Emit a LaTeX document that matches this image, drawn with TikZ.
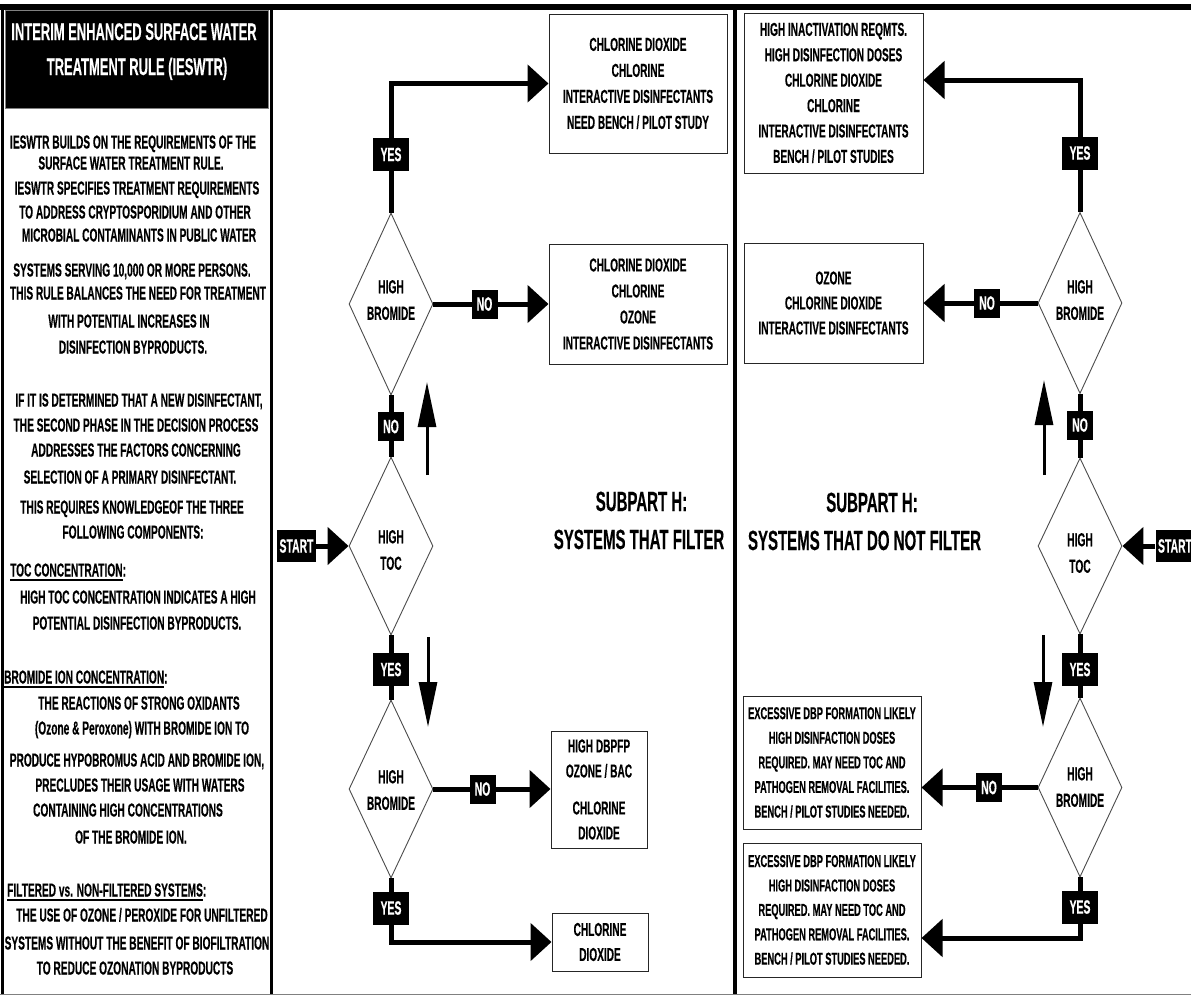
\documentclass[tikz,border=0pt]{standalone}
\usepackage{fontspec}
\setmainfont{Liberation Sans}[FakeStretch=0.54, FakeBold=0.3]
\usetikzlibrary{shapes.geometric,arrows.meta}
\newcommand\myul[1]{\setbox0\hbox{#1}\rlap{\rule[-4.5pt]{\wd0}{2pt}}\box0}
\begin{document}
\begin{tikzpicture}[x=1pt,y=-1pt,
 bodytxt/.style={anchor=base, inner sep=0pt, font=\bfseries\fontsize{18.8}{26}\selectfont},
 headtxt/.style={bodytxt, anchor=base west},
 titletxt/.style={anchor=base, inner sep=0pt, text=white, font=\bfseries\fontsize{24}{28}\selectfont},
 subtxt/.style={anchor=base, inner sep=0pt, font=\bfseries\fontsize{27.8}{30}\selectfont},
 dia/.style={draw=black!70, line width=0.9pt, shape=diamond, minimum width=84pt, inner sep=0pt},
 diatxt/.style={align=center, inner sep=0pt, font=\bfseries\fontsize{18.9}{26.5}\selectfont},
 outbox/.style={draw=black!85, line width=1pt, align=center, inner sep=0pt, font=\bfseries\fontsize{18.7}{26}\selectfont},
 lab/.style={fill=black, text=white, inner sep=0pt, font=\bfseries\fontsize{19.3}{20}\selectfont},
 yeslab/.style={lab, minimum width=36pt, minimum height=33pt},
 nolab/.style={lab, minimum width=26pt, minimum height=29pt},
 startlab/.style={lab, minimum width=39pt, minimum height=32pt},
 flow/.style={line width=5pt, -{Triangle[length=21pt,width=37pt]}},
 link/.style={line width=5pt},
 hint/.style={line width=3pt, -{Triangle[length=45pt,width=18pt]}},
]
\useasboundingbox (0,0) rectangle (1191,997);
\fill[white] (0,0) rectangle (1191,997);

% frame
\draw[line width=6pt] (0,7) -- (1191,7);
\draw[line width=3pt] (2,4) -- (2,994);
\draw[line width=3.5pt] (271.5,4) -- (271.5,994);
\draw[line width=4pt] (735,4) -- (735,994);
\draw[gray, line width=1.5pt] (0,994.5) -- (1191,994.5);

% title box
\fill[black] (5,10) rectangle (268,108);
\draw[gray, line width=1pt] (5,10) rectangle (268,108);
\node[titletxt] (t1) at (134,40) {INTERIM ENHANCED SURFACE WATER};
\node[titletxt] (t2) at (137,75) {TREATMENT RULE (IESWTR)};

% left panel text
\node[bodytxt] (l1) at (133,148.5) {IESWTR BUILDS ON THE REQUIREMENTS OF THE};
\node[bodytxt] (l2) at (131,169.5) {SURFACE WATER TREATMENT RULE.};
\node[bodytxt] (l3) at (137,194.5) {IESWTR SPECIFIES TREATMENT REQUIREMENTS};
\node[bodytxt] (l4) at (135,218.5) {TO ADDRESS CRYPTOSPORIDIUM AND OTHER};
\node[bodytxt] (l5) at (139,241.5) {MICROBIAL CONTAMINANTS IN PUBLIC WATER};
\node[bodytxt] (l6) at (132,276.5) {SYSTEMS SERVING 10,000 OR MORE PERSONS.};
\node[bodytxt] (l7) at (138,299.5) {THIS RULE BALANCES THE NEED FOR TREATMENT};
\node[bodytxt] (l8) at (129,327.5) {WITH POTENTIAL INCREASES IN};
\node[bodytxt] (l9) at (133,353.5) {DISINFECTION BYPRODUCTS.};
\node[bodytxt] (l10) at (139,406.5) {IF IT IS DETERMINED THAT A NEW DISINFECTANT,};
\node[bodytxt] (l11) at (136,431.5) {THE SECOND PHASE IN THE DECISION PROCESS};
\node[bodytxt] (l12) at (136,456.5) {ADDRESSES THE FACTORS CONCERNING};
\node[bodytxt] (l13) at (130,483.5) {SELECTION OF A PRIMARY DISINFECTANT.};
\node[bodytxt] (l14) at (132,513.5) {THIS REQUIRES KNOWLEDGEOF THE THREE};
\node[bodytxt] (l15) at (133,538.5) {FOLLOWING COMPONENTS:};
\node[headtxt] (h16) at (10,576.5) {\myul{TOC CONCENTRATION}:};
\node[bodytxt] (l17) at (138,603.5) {HIGH TOC CONCENTRATION INDICATES A HIGH};
\node[bodytxt] (l18) at (137,629.5) {POTENTIAL DISINFECTION BYPRODUCTS.};
\node[headtxt] (h19) at (4,683.5) {\myul{BROMIDE ION CONCENTRATION}:};
\node[bodytxt] (l20) at (139,709.5) {THE REACTIONS OF STRONG OXIDANTS};
\node[bodytxt] (l21) at (142,734.5) {(Ozone \& Peroxone) WITH BROMIDE ION TO};
\node[bodytxt] (l22) at (137,766.5) {PRODUCE HYPOBROMUS ACID AND BROMIDE ION,};
\node[bodytxt] (l23) at (140,791.5) {PRECLUDES THEIR USAGE WITH WATERS};
\node[bodytxt] (l24) at (128,816.5) {CONTAINING HIGH CONCENTRATIONS};
\node[bodytxt] (l25) at (131,843.5) {OF THE BROMIDE ION.};
\node[headtxt] (h26) at (7,896.5) {\myul{FILTERED vs. NON-FILTERED SYSTEMS}:};
\node[bodytxt] (l27) at (142,921.5) {THE USE OF OZONE / PEROXIDE FOR UNFILTERED};
\node[bodytxt] (l28) at (137,949.5) {SYSTEMS WITHOUT THE BENEFIT OF BIOFILTRATION};
\node[bodytxt] (l29) at (135,974.5) {TO REDUCE OZONATION BYPRODUCTS};

% subpart titles
\node[subtxt] (s1) at (641.5,511) {SUBPART H:};
\node[subtxt] (s2) at (639,549) {SYSTEMS THAT FILTER};
\node[subtxt] (s3) at (872,512) {SUBPART H:};
\node[subtxt] (s4) at (864.5,550) {SYSTEMS THAT DO NOT FILTER};

% ---------- centre: systems that filter ----------
\node[dia, minimum height=182pt] (dB1) at (391,304) {};
\node[dia, minimum height=178pt] (dT) at (391,546) {};
\node[dia, minimum height=178pt] (dB2) at (391,789) {};
\node[diatxt] (dB1t) at (391,300) {HIGH\\BROMIDE};
\node[diatxt] (dTt) at (391,550) {HIGH\\TOC};
\node[diatxt] (dB2t) at (391,790) {HIGH\\BROMIDE};

\node[outbox, minimum width=178pt, minimum height=139pt] (cB1) at (638,83.5)
 {CHLORINE DIOXIDE\\CHLORINE\\INTERACTIVE DISINFECTANTS\\NEED BENCH / PILOT STUDY};
\node[outbox, minimum width=178pt, minimum height=120pt] (cB2) at (638,304)
 {CHLORINE DIOXIDE\\CHLORINE\\OZONE\\INTERACTIVE DISINFECTANTS};
\node[outbox, minimum width=96pt, minimum height=117pt, font=\bfseries\fontsize{18.7}{25}\selectfont] (cB3) at (599,789.5)
 {HIGH DBPFP\\OZONE / BAC\\[12pt]CHLORINE\\DIOXIDE};
\node[outbox, minimum width=96pt, minimum height=58pt, font=\bfseries\fontsize{18.7}{25}\selectfont] (cB4) at (600,942)
 {CHLORINE\\DIOXIDE};

\node[startlab] (startL) at (296.5,546) {START};

\draw[flow] (startL.east) -- (dT.west);
\draw[link] (dT.north) -- (dB1.south);
\draw[link] (dT.south) -- (dB2.north);
\draw[flow] (dB1.north) |- (cB1.west);
\draw[flow] (dB1.east) -- (cB2.west);
\draw[flow] (dB2.east) -- (dB2.east -| cB3.west);
\draw[flow] (dB2.south) |- (cB4.west);

\coordinate (cu1) at (427,475);
\coordinate (cu2) at (427,382);
\coordinate (cd1) at (428,637);
\coordinate (cd2) at (428,727);
\draw[hint] (cu1) -- (cu2);
\draw[hint] (cd1) -- (cd2);

\node[yeslab] (cYes1) at (391,154.5) {YES};
\node[nolab] (cNo1) at (484.5,304) {NO};
\node[nolab] (cNo2) at (391,426.5) {NO};
\node[yeslab] (cYes2) at (391,669.5) {YES};
\node[nolab] (cNo3) at (482.5,789) {NO};
\node[yeslab] (cYes3) at (391,908) {YES};

% ---------- right: systems that do not filter ----------
\node[dia, minimum height=181pt] (dRB1) at (1080,303) {};
\node[dia, minimum height=176pt] (dRT) at (1080,546) {};
\node[dia, minimum height=179pt] (dRB2) at (1080,787.5) {};
\node[diatxt] (dRB1t) at (1080,300) {HIGH\\BROMIDE};
\node[diatxt] (dRTt) at (1080,553) {HIGH\\TOC};
\node[diatxt] (dRB2t) at (1080,787) {HIGH\\BROMIDE};

\node[outbox, minimum width=179pt, minimum height=160pt, font=\bfseries\fontsize{18.7}{25.4}\selectfont] (rB1) at (833.5,93)
 {HIGH INACTIVATION REQMTS.\\HIGH DISINFECTION DOSES\\CHLORINE DIOXIDE\\CHLORINE\\INTERACTIVE DISINFECTANTS\\BENCH / PILOT STUDIES};
\node[outbox, minimum width=179pt, minimum height=120pt, font=\bfseries\fontsize{18.7}{25}\selectfont] (rB2) at (833.5,303)
 {OZONE\\CHLORINE DIOXIDE\\INTERACTIVE DISINFECTANTS};
\node[outbox, minimum width=178pt, minimum height=133pt, font=\bfseries\fontsize{17.2}{24.6}\selectfont] (rB3) at (832,762.5)
 {EXCESSIVE DBP FORMATION LIKELY\\HIGH DISINFACTION DOSES\\REQUIRED. MAY NEED TOC AND\\PATHOGEN REMOVAL FACILITIES.\\BENCH / PILOT STUDIES NEEDED.};
\node[outbox, minimum width=178pt, minimum height=134pt, font=\bfseries\fontsize{17.2}{24.4}\selectfont] (rB4) at (832,910)
 {EXCESSIVE DBP FORMATION LIKELY\\HIGH DISINFACTION DOSES\\REQUIRED. MAY NEED TOC AND\\PATHOGEN REMOVAL FACILITIES.\\BENCH / PILOT STUDIES NEEDED.};

\node[startlab] (startR) at (1175,546) {START};

\draw[flow] (startR.west) -- (dRT.east);
\draw[link] (dRT.north) -- (dRB1.south);
\draw[link] (dRT.south) -- (dRB2.north);
\draw[flow] (dRB1.north) |- ([yshift=13pt]rB1.east);
\draw[flow] (dRB1.west) -- (rB2.east);
\draw[flow] (dRB2.west) -- (dRB2.west -| rB3.east);
\draw[flow] (dRB2.south) |- ([yshift=-28pt]rB4.east);

\coordinate (ru1) at (1044,475);
\coordinate (ru2) at (1044,380);
\coordinate (rd1) at (1043,635);
\coordinate (rd2) at (1043,727);
\draw[hint] (ru1) -- (ru2);
\draw[hint] (rd1) -- (rd2);

\node[yeslab] (rYes1) at (1080,153) {YES};
\node[nolab] (rNo1) at (987,303) {NO};
\node[nolab] (rNo2) at (1080,425) {NO};
\node[yeslab] (rYes2) at (1080,669.5) {YES};
\node[nolab] (rNo3) at (989,787.5) {NO};
\node[yeslab] (rYes3) at (1080,907) {YES};
\end{tikzpicture}
\end{document}
